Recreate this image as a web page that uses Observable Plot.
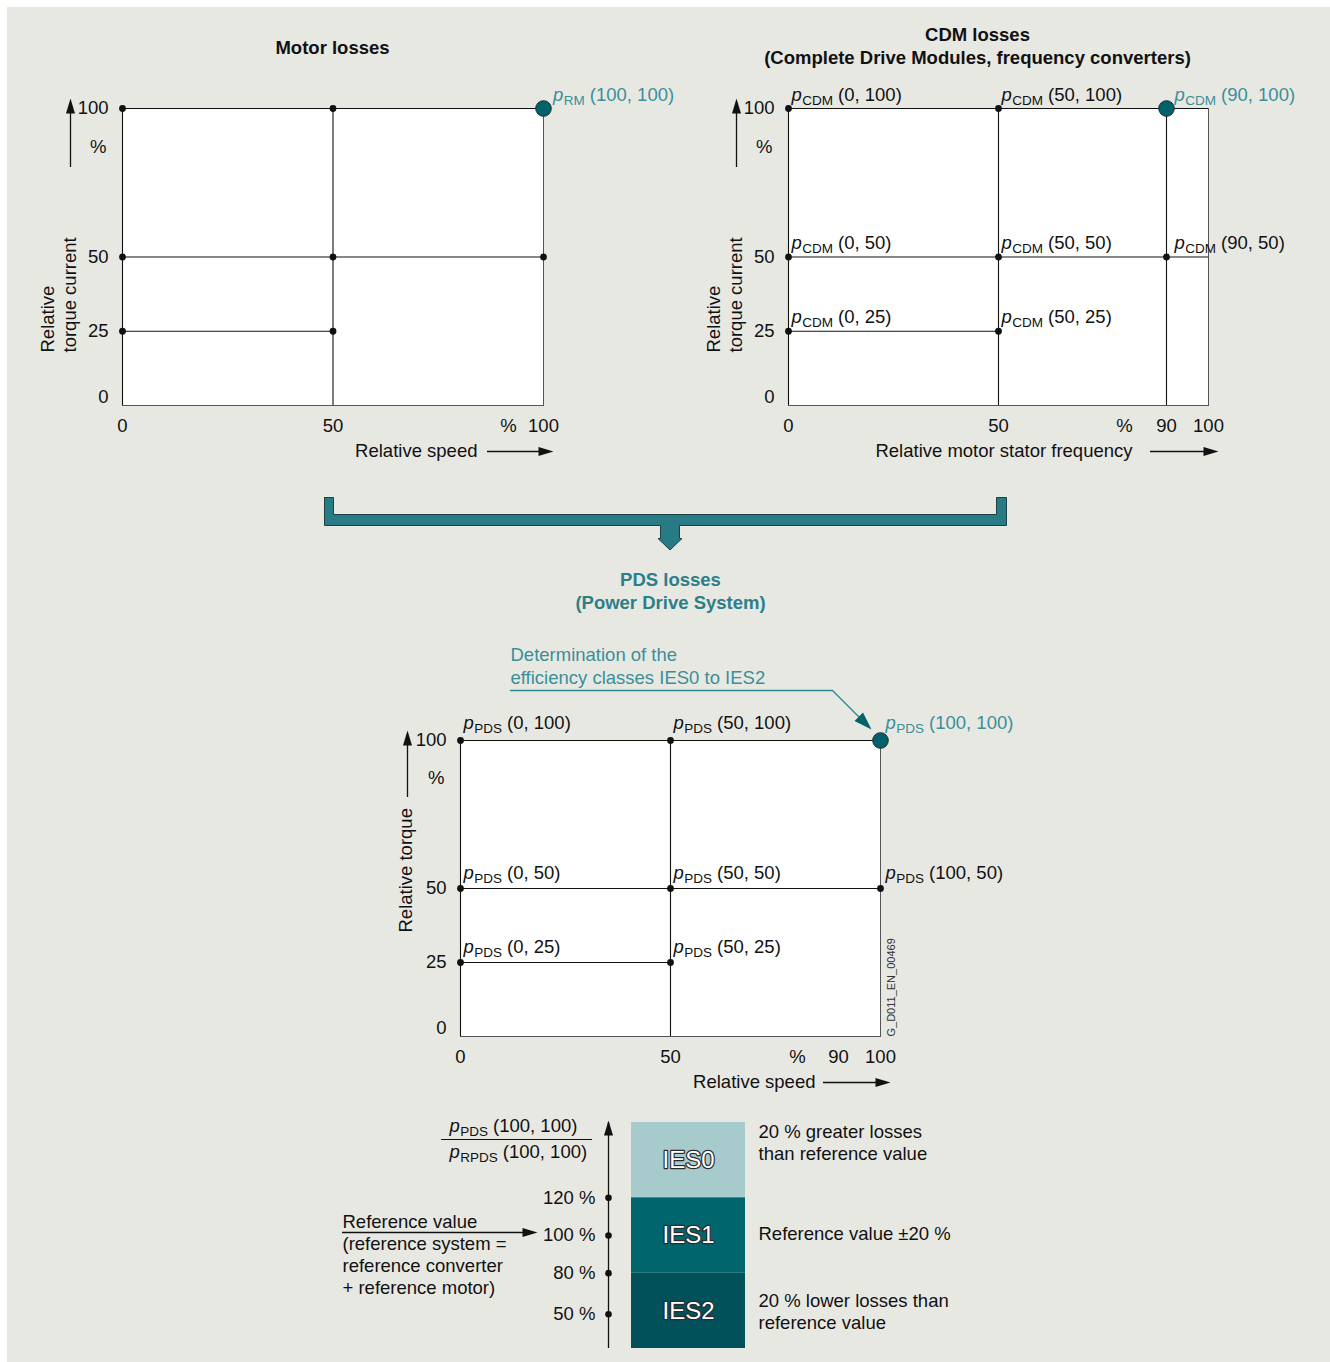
<!DOCTYPE html>
<html>
<head>
<meta charset="utf-8">
<script src="https://cdn.jsdelivr.net/npm/d3@7"></script>
<script src="https://cdn.jsdelivr.net/npm/@observablehq/plot@0.6"></script>
<style>
  html, body { margin: 0; padding: 0; background: #ffffff; }
  #page { position: absolute; left: 7px; top: 7px; width: 1323px; height: 1355px; background: #e8e8e3; }
  .layer { position: absolute; }
  .layer svg { overflow: visible; }
</style>
</head>
<body>
<div id="page"></div>
<script>
// ===================== DATA =====================
// Motor losses (reference motor, relative speed / relative torque current)
const motorXTicks = [0, 50, 100];
const motorYTicks = [0, 25, 50, 100];
const motorPtX = [0, 50, 0, 50, 100, 0, 50];
const motorPtY = [100, 100, 50, 50, 50, 25, 25];
const motorRefPt = [100, 100];
const motorHLineY = [100, 50, 25];
const motorHLineEnd = [100, 100, 50];
const motorVLineX = [50];

// CDM losses (relative motor stator frequency / relative torque current)
const cdmXTicks = [0, 50, 90, 100];
const cdmYTicks = [0, 25, 50, 100];
const cdmPtX = [0, 50, 0, 50, 90, 0, 50];
const cdmPtY = [100, 100, 50, 50, 50, 25, 25];
const cdmRefPt = [90, 100];
const cdmHLineY = [100, 50, 25];
const cdmHLineEnd = [100, 100, 50];
const cdmVLineX = [50, 90];

// PDS losses (relative speed / relative torque)
const pdsXTicks = [0, 50, 90, 100];
const pdsYTicks = [0, 25, 50, 100];
const pdsPtX = [0, 50, 0, 50, 100, 0, 50];
const pdsPtY = [100, 100, 50, 50, 50, 25, 25];
const pdsRefPt = [100, 100];
const pdsHLineY = [100, 50, 25];
const pdsHLineEnd = [100, 100, 50];
const pdsVLineX = [50];

// Efficiency classes (ratio pPDS / pRPDS in %)
const iesClasses = ["IES0", "IES1", "IES2"];
const iesLow = [120, 80, 25];
const iesHigh = [160, 120, 80];
const iesDesc = ["20 % greater losses\nthan reference value", "Reference value ±20 %", "20 % lower losses than\nreference value"];
const ratioTicks = [120, 100, 80, 50];
const referenceRatio = 100;

// ===================== STYLE / LAYOUT =====================
const FONT = '"Liberation Sans", Arial, Helvetica, sans-serif';
const INK = "#111111";
const TEAL_LABEL = "#3a8f99";
const TEAL_DOT = "#00636b";
const TEAL_TITLE = "#2b7f88";
const IES_COLORS = ["#a7cacc", "#00656d", "#00515a"];
const LW = 1.1;

function arrowSymbol(angleDeg, len = 15, half = 4.5) {
  const a = angleDeg * Math.PI / 180;
  const ux = Math.cos(a), uy = Math.sin(a);
  const bx = -ux * len, by = -uy * len;
  const px = -uy * half, py = ux * half;
  return {draw(ctx) { ctx.moveTo(0, 0); ctx.lineTo(bx + px, by + py); ctx.lineTo(bx - px, by - py); ctx.closePath(); }};
}
const ARROW_UP = arrowSymbol(-90);
const ARROW_RIGHT = arrowSymbol(0);

function mount(svg, left, top, width, height) {
  const div = document.createElement("div");
  div.className = "layer";
  Object.assign(div.style, {left: left + "px", top: top + "px", width: width + "px", height: height + "px"});
  div.appendChild(svg);
  document.body.appendChild(div);
  richLabels(svg);
}

function richLabels(svg) {
  d3.select(svg).selectAll("text").each(function () {
    const t = this.textContent;
    if (!t.includes("|")) return;
    const [p, sub, rest] = t.split("|");
    const sel = d3.select(this);
    sel.text(null);
    sel.append("tspan").attr("font-style", "italic").text(p);
    sel.append("tspan").attr("font-size", 13.5).attr("dx", 0.5).attr("dy", 4).text(sub);
    sel.append("tspan").attr("dx", 5).attr("dy", -4).text(rest);
  });
}

function baseStyle() {
  return {background: "transparent", overflow: "visible", fontFamily: FONT, fontSize: "18.5px", color: INK};
}

function panel(cfg) {
  const {left, top, width, height, fx0, fx1, fyTop, fyBottom} = cfg;
  const ux = px => (px - fx0) / (fx1 - fx0) * 100;
  const uy = py => (fyBottom - py) / (fyBottom - fyTop) * 100;
  const points = cfg.ptX.map((x, i) => ({x, y: cfg.ptY[i]}));
  const hLines = cfg.hY.map((y, i) => ({y, x2: cfg.hEnd[i]}));
  const ref = {x: cfg.refPt[0], y: cfg.refPt[1]};
  const lab = d => `p|${cfg.sub}|(${d.x}, ${d.y})`;
  const labeled = cfg.labelAll ? points : [];
  const labelMark = (data, dx, dy, fill) => Plot.text(data, {x: "x", y: "y", text: lab, textAnchor: "start", lineAnchor: "bottom", dx, dy, fill});
  const isRight = d => d.x === ref.x;
  const isTop = d => d.y === 100;
  const marks = [
    Plot.frame({fill: "white", stroke: "#555", strokeWidth: 1}),
    Plot.ruleX([0], {stroke: INK, strokeWidth: LW}),
    Plot.ruleX(cfg.vX, {y1: 0, y2: 100, stroke: INK, strokeWidth: LW}),
    Plot.ruleY(hLines, {y: "y", x1: 0, x2: "x2", stroke: INK, strokeWidth: LW}),
    // y ticks
    Plot.text(cfg.yTicks.filter(d => d > 0), {x: 0, y: d => d, text: d => String(d), textAnchor: "end", lineAnchor: "middle", dx: -14}),
    Plot.text(cfg.yTicks.filter(d => d === 0), {x: 0, y: d => d, text: d => String(d), textAnchor: "end", lineAnchor: "middle", dx: -14, dy: -8}),
    Plot.text(["%"], {x: 0, y: uy(cfg.pctY), textAnchor: "end", lineAnchor: "middle", dx: -16}),
    // x ticks
    Plot.text(cfg.xTicks, {x: d => d, y: 0, text: d => String(d), lineAnchor: "middle", dy: 20.5}),
    Plot.text(["%"], {x: ux(cfg.pctX), y: 0, lineAnchor: "middle", dy: 20.5}),
    // y axis arrow + label
    Plot.ruleX([0], {y1: uy(cfg.yArrow[1]), y2: uy(cfg.yArrow[0] + 10), dx: cfg.yArrowX - fx0, stroke: INK, strokeWidth: 1.3}),
    Plot.dot([0], {x: d => d, y: uy(cfg.yArrow[0]), dx: cfg.yArrowX - fx0, symbol: ARROW_UP, r: 5, fill: INK, stroke: "none"}),
    Plot.text([cfg.yLabel], {x: 0, y: uy(cfg.yLabelBottom), dx: cfg.yLabelX - fx0, rotate: -90, textAnchor: "start", lineAnchor: "middle", lineHeight: 1.2}),
    // x axis label + arrow
    Plot.text([cfg.xLabel], {x: ux(cfg.xLabelEnd), y: 0, dy: 46, textAnchor: "end", lineAnchor: "middle"}),
    Plot.ruleY([0], {x1: ux(cfg.xArrow[0]), x2: ux(cfg.xArrow[1] - 10), dy: 46, stroke: INK, strokeWidth: 1.3}),
    Plot.dot([0], {x: ux(cfg.xArrow[1]), y: d => d, dy: 46, symbol: ARROW_RIGHT, r: 5, fill: INK, stroke: "none"}),
    // title
    Plot.text([cfg.title], {frameAnchor: "top", dx: cfg.titleX - (fx0 + fx1) / 2, dy: cfg.titleBaseline - fyTop, lineAnchor: "bottom", fontWeight: "bold", fill: cfg.titleColor, lineHeight: 1.2}),
    // points
    Plot.dot(points, {x: "x", y: "y", r: 3.4, fill: INK, stroke: "none"}),
    Plot.dot([ref], {x: "x", y: "y", r: 7.8, fill: TEAL_DOT, stroke: "#1c2c2e", strokeWidth: 1}),
    labelMark(labeled.filter(d => !isRight(d) && isTop(d)), 3, cfg.topDy, INK),
    labelMark(labeled.filter(d => !isRight(d) && !isTop(d)), 3, cfg.rowDy, INK),
    labelMark(labeled.filter(d => isRight(d)), cfg.rightDx, cfg.rowDy, INK),
    labelMark([ref], cfg.refDx, cfg.topDy, TEAL_LABEL),
    ...(cfg.extra ? cfg.extra(ux, uy) : [])
  ];
  const svg = Plot.plot({
    width, height,
    marginLeft: fx0 - left, marginRight: left + width - fx1,
    marginTop: fyTop - top, marginBottom: top + height - fyBottom,
    x: {domain: [0, 100], axis: null},
    y: {domain: [0, 100], axis: null},
    style: baseStyle(),
    marks
  });
  mount(svg, left, top, width, height);
}

// Motor losses
panel({
  left: 20, top: 20, width: 680, height: 460, fx0: 122, fx1: 543, fyTop: 108, fyBottom: 405,
  xTicks: motorXTicks, yTicks: motorYTicks, ptX: motorPtX, ptY: motorPtY, refPt: motorRefPt,
  hY: motorHLineY, hEnd: motorHLineEnd, vX: motorVLineX, sub: "RM", labelAll: false,
  title: "Motor losses", titleX: 332, titleBaseline: 53, titleColor: INK,
  yLabel: "Relative\ntorque current", yLabelX: 57, yLabelBottom: 352,
  yArrowX: 70, yArrow: [98, 167], pctY: 147, pctX: 508,
  xLabel: "Relative speed", xLabelEnd: 477, xArrow: [487, 553],
  topDy: -8, rowDy: -8, rightDx: 9.5, refDx: 9.5
});

// CDM losses
panel({
  left: 690, top: 20, width: 630, height: 460, fx0: 788, fx1: 1208, fyTop: 108, fyBottom: 405,
  xTicks: cdmXTicks, yTicks: cdmYTicks, ptX: cdmPtX, ptY: cdmPtY, refPt: cdmRefPt,
  hY: cdmHLineY, hEnd: cdmHLineEnd, vX: cdmVLineX, sub: "CDM", labelAll: true,
  title: "CDM losses\n(Complete Drive Modules, frequency converters)", titleX: 977, titleBaseline: 63, titleColor: INK,
  yLabel: "Relative\ntorque current", yLabelX: 723, yLabelBottom: 352,
  yArrowX: 736, yArrow: [98, 167], pctY: 147, pctX: 1124,
  xLabel: "Relative motor stator frequency", xLabelEnd: 1132, xArrow: [1150, 1218],
  topDy: -8, rowDy: -8.5, rightDx: 8, refDx: 8
});

// PDS losses
panel({
  left: 330, top: 560, width: 700, height: 540, fx0: 460, fx1: 880, fyTop: 740, fyBottom: 1036,
  xTicks: pdsXTicks, yTicks: pdsYTicks, ptX: pdsPtX, ptY: pdsPtY, refPt: pdsRefPt,
  hY: pdsHLineY, hEnd: pdsHLineEnd, vX: pdsVLineX, sub: "PDS", labelAll: true,
  title: "PDS losses\n(Power Drive System)", titleX: 670, titleBaseline: 608, titleColor: TEAL_TITLE,
  yLabel: "Relative torque", yLabelX: 404, yLabelBottom: 932,
  yArrowX: 407, yArrow: [730, 797], pctY: 778, pctX: 797,
  xLabel: "Relative speed", xLabelEnd: 815, xArrow: [823, 890],
  topDy: -12, rowDy: -9.5, rightDx: 5, refDx: 5,
  extra: (ux, uy) => {
    const leader = [[510, 690], [832, 690], [860, 718]];
    return [
      Plot.text(["Determination of the\nefficiency classes IES0 to IES2"], {x: ux(510), y: uy(683), textAnchor: "start", lineAnchor: "bottom", fill: TEAL_LABEL, lineHeight: 1.24}),
      Plot.line(leader, {x: d => ux(d[0]), y: d => uy(d[1]), stroke: "#2f8891", strokeWidth: 1.4}),
      Plot.dot([[871, 729]], {x: d => ux(d[0]), y: d => uy(d[1]), symbol: arrowSymbol(45, 18, 6), r: 6, fill: TEAL_DOT, stroke: "none"}),
      Plot.text(["G_D011_EN_00469"], {x: 100, y: 0, dx: 11, rotate: -90, textAnchor: "start", lineAnchor: "middle", fontSize: 11, fill: "#333"})
    ];
  }
});

// Efficiency classes
(function () {
  const L = 330, T = 1100, W = 670, H = 262;
  const mt = 22, mb = 14, barL = 631, barR = 745;
  const ix = px => (px - barL) / (barR - barL);
  // schematic (piecewise) ratio axis: each class band gets the same height
  const bandEdges = [iesLow[2], iesLow[1], iesLow[0], iesHigh[0]];
  const level = d3.scaleLinear().domain(bandEdges).range(bandEdges.map((_, i) => i));
  const ies = iesClasses.map((name, i) => ({name, lo: level(iesLow[i]), hi: level(iesHigh[i]), mid: (level(iesLow[i]) + level(iesHigh[i])) / 2, desc: iesDesc[i]}));
  const descDy = [-18, -3, 0];
  const axisDx = -23;
  const top = level(iesHigh[0]), bottom = level(iesLow[2]);
  const ticks = ratioTicks.map(v => ({v, y: level(v)}));
  const svg = Plot.plot({
    width: W, height: H,
    marginLeft: barL - L, marginRight: L + W - barR, marginTop: mt, marginBottom: mb,
    x: {domain: [0, 1], axis: null},
    y: {domain: [bottom, top], axis: null},
    color: {domain: iesClasses, range: IES_COLORS},
    style: baseStyle(),
    marks: [
      Plot.rect(ies, {x1: 0, x2: 1, y1: "lo", y2: "hi", fill: "name"}),
      Plot.text(ies, {x: 0.5, y: "mid", text: "name", fontSize: 24, fill: "white", stroke: "#2a2a2a", strokeWidth: 2.4, lineAnchor: "middle"}),
      ...ies.map((d, i) => Plot.text([d], {x: ix(758), y: "mid", text: "desc", textAnchor: "start", lineAnchor: "middle", dy: descDy[i], lineHeight: 1.2})),
      // vertical ratio axis
      Plot.ruleX([0], {y1: bottom, y2: top, dx: axisDx, stroke: INK, strokeWidth: 1.3}),
      Plot.dot([0], {x: d => d, y: top, dx: axisDx, dy: -2, symbol: ARROW_UP, r: 5, fill: INK, stroke: "none"}),
      Plot.dot(ticks, {x: 0, y: "y", dx: axisDx, r: 3.3, fill: INK, stroke: "none"}),
      Plot.text(ticks, {x: 0, y: "y", text: d => `${d.v} %`, dx: -36, textAnchor: "end", lineAnchor: "middle"}),
      // fraction
      Plot.text(["p|PDS|(100, 100)"], {frameAnchor: "top-left", dx: 449 - barL, dy: 9, textAnchor: "start", lineAnchor: "bottom"}),
      Plot.text(["p|RPDS|(100, 100)"], {frameAnchor: "top-left", dx: 449 - barL, dy: 35, textAnchor: "start", lineAnchor: "bottom"}),
      Plot.ruleY([top], {x1: ix(441), x2: ix(592), dy: 17, stroke: INK, strokeWidth: 1.2}),
      // reference value
      Plot.ruleY([level(referenceRatio)], {x1: ix(342), x2: ix(528), dy: -3, stroke: INK, strokeWidth: 1.3}),
      Plot.dot([level(referenceRatio)], {x: ix(537), y: d => d, dy: -3, symbol: ARROW_RIGHT, r: 5, fill: INK, stroke: "none"}),
      Plot.text(["Reference value"], {x: ix(342), y: level(referenceRatio), dy: -8, textAnchor: "start", lineAnchor: "bottom"}),
      Plot.text(["(reference system =\nreference converter\n+ reference motor)"], {x: ix(342), y: level(referenceRatio), dy: -1, textAnchor: "start", lineAnchor: "top", lineHeight: 1.19})
    ]
  });
  mount(svg, L, T, W, H);
})();

// Connector bracket between the upper panels and the PDS panel
(function () {
  const connector = [[324, 497], [333, 497], [333, 514], [996, 514], [996, 497], [1006, 497], [1006, 525], [679, 525], [679, 538], [681.5, 538], [669.5, 549.5], [657.5, 538], [660, 538], [660, 525], [324, 525], [324, 497]];
  const svg = Plot.plot({
    width: 1330, height: 1362, margin: 0,
    x: {type: "identity", axis: null}, y: {type: "identity", axis: null},
    style: baseStyle(),
    marks: [Plot.line(connector, {x: d => d[0], y: d => d[1], fill: "#267b84", stroke: "#1e3f43", strokeWidth: 1})]
  });
  mount(svg, 0, 0, 1330, 1362);
})();
</script>
</body>
</html>
